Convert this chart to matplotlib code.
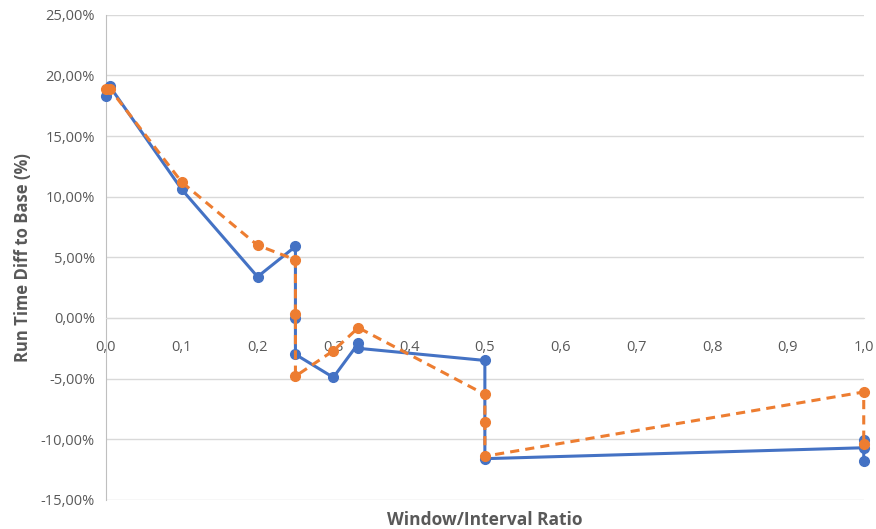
import matplotlib.pyplot as plt
from matplotlib.ticker import FuncFormatter, MultipleLocator

plt.rcParams['font.family'] = ['Open Sans', 'DejaVu Sans']

# blue series (solid)
blue_x = [0.0, 0.005, 0.1, 0.2, 0.25, 0.25, 0.25, 0.3, 0.333, 0.333, 0.5, 0.5, 1.0, 1.0, 1.0]
blue_y = [18.3, 19.1, 10.6, 3.4, 5.9, 0.0, -3.0, -4.9, -2.1, -2.5, -3.5, -11.6, -10.7, -10.1, -11.8]

# orange series (dashed)
orange_x = [0.0, 0.005, 0.1, 0.2, 0.25, 0.25, 0.25, 0.3, 0.333, 0.5, 0.5, 0.5, 1.0, 1.0]
orange_y = [18.9, 18.9, 11.2, 6.0, 4.8, 0.3, -4.8, -2.7, -0.8, -6.3, -8.6, -11.4, -6.1, -10.4]

grey = '#595959'

fig = plt.figure(figsize=(8.76, 5.29), dpi=100)
ax = fig.add_axes([0.121, 0.055, 0.865, 0.917])

ax.plot(blue_x, blue_y, color='#4472C4', lw=2.2, marker='o', ms=7, clip_on=False, zorder=3)
ax.plot(orange_x, orange_y, color='#ED7D31', lw=2.2, ls=(0, (3, 2)), marker='o', ms=7,
        clip_on=False, zorder=4)

ax.set_xlim(0, 1.0)
ax.set_ylim(-15, 25)
ax.xaxis.set_major_locator(MultipleLocator(0.1))
ax.yaxis.set_major_locator(MultipleLocator(5))
ax.xaxis.set_major_formatter(FuncFormatter(lambda v, p: ('%.1f' % v).replace('.', ',')))
ax.yaxis.set_major_formatter(FuncFormatter(lambda v, p: ('%.2f%%' % v).replace('.', ',')))

ax.grid(axis='y', color='#D9D9D9', lw=1)
ax.set_axisbelow(True)
for s in ['top', 'right']:
    ax.spines[s].set_visible(False)
ax.spines['left'].set_color('#BFBFBF')
ax.spines['bottom'].set_position(('data', 0))
ax.spines['bottom'].set_color('#D9D9D9')
ax.tick_params(axis='both', length=0, colors=grey, labelsize=10.5)
ax.tick_params(axis='x', pad=16)
ax.tick_params(axis='y', pad=8)

ax.set_ylabel('Run Time Diff to Base (%)', color=grey, fontsize=12, fontweight='bold', labelpad=6)
fig.text(0.553, 0.0, 'Window/Interval Ratio', color=grey, fontsize=12.5, fontweight='bold',
         ha='center', va='bottom')

fig.savefig('out.png', dpi=100)
